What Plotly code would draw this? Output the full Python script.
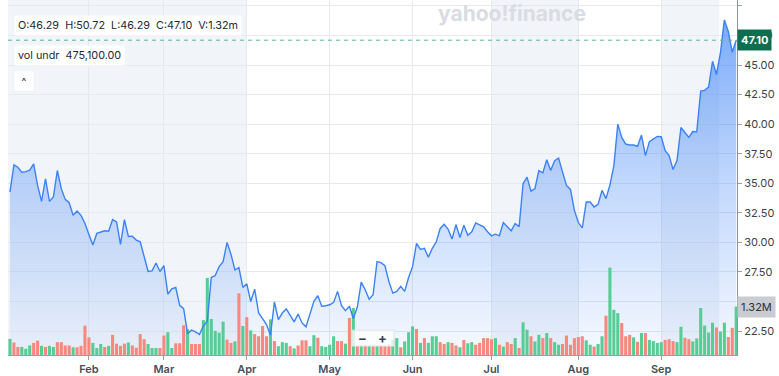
import pandas as pd
import plotly.graph_objects as go

# ---------------- data ----------------
holidays = ["2025-01-01", "2025-01-09", "2025-01-20", "2025-02-17", "2025-04-18",
            "2025-05-26", "2025-06-19", "2025-07-04", "2025-09-01"]
dates = pd.bdate_range("2025-01-02", "2025-09-29", freq="C",
                       holidays=holidays).strftime("%Y-%m-%d").tolist()

close = [34.26, 36.55, 36.36, 35.94, 35.99, 36.11, 36.64, 34.82, 33.47, 35.38,
         33.47, 33.84, 36.08, 34.54, 33.64, 33.36, 32.29, 32.66, 32.29, 31.60,
         30.67, 29.78, 30.76, 30.84, 30.98, 30.95, 31.93, 31.74, 29.83, 31.93,
         30.50, 30.53, 30.20, 30.05, 28.80, 27.54, 27.59, 28.26, 27.54, 28.04,
         25.63, 26.08, 26.19, 24.68, 24.40, 22.27, 22.58, 22.44, 22.21, 22.92,
         23.33, 27.03, 27.20, 27.95, 28.38, 30.00, 28.99, 27.67, 27.87, 26.19,
         26.50, 25.00, 26.05, 24.03, 23.56, 23.05, 22.16, 24.96, 23.47, 24.03,
         24.37, 23.84, 23.28, 23.95, 23.19, 22.86, 23.95, 25.02, 25.49, 24.60,
         24.65, 24.73, 24.93, 25.86, 24.65, 24.23, 24.60, 23.56, 24.51, 26.64,
         26.00, 25.20, 25.57, 28.38, 28.29, 28.04, 26.70, 25.71, 25.86, 26.28,
         25.86, 27.03, 27.95, 29.92, 29.41, 29.50, 28.74, 29.50, 30.05, 31.18,
         31.54, 31.12, 30.28, 31.51, 30.42, 31.46, 30.61, 30.90, 31.65, 31.51,
         31.32, 30.90, 30.56, 30.70, 30.56, 31.68, 31.32, 30.98, 31.60, 31.32,
         34.96, 35.52, 34.34, 34.54, 36.08, 35.88, 37.00, 36.08, 36.92, 37.14,
         35.94, 34.82, 34.48, 32.71, 31.68, 31.23, 33.42, 33.42, 33.00, 33.22,
         34.40, 33.70, 34.85, 36.50, 40.00, 38.88, 38.32, 38.24, 38.24, 38.13,
         39.08, 37.34, 38.52, 38.74, 38.97, 38.94, 37.76, 37.34, 36.16, 36.92,
         39.72, 39.30, 38.88, 39.38, 39.35, 42.80, 42.86, 43.14, 45.32, 44.20,
         46.02, 48.82, 47.84, 46.08, 47.10]

volume_m = [0.44, 0.34, 0.22, 0.22, 0.17, 0.26, 0.33, 0.39, 0.25, 0.22,
            0.25, 0.22, 0.35, 0.35, 0.26, 0.26, 0.21, 0.21, 0.25, 0.80,
            0.48, 0.33, 0.19, 0.30, 0.22, 0.25, 0.55, 0.31, 0.25, 0.31,
            0.34, 0.26, 0.20, 0.57, 0.43, 0.30, 0.19, 0.19, 0.19, 0.53,
            0.62, 0.19, 0.32, 0.32, 0.81, 0.70, 0.30, 0.30, 0.30, 0.95,
            2.10, 0.98, 0.66, 0.61, 0.91, 0.42, 0.33, 0.37, 1.68, 0.79,
            1.03, 0.67, 0.57, 0.51, 0.79, 0.51, 0.97, 0.38, 0.24, 0.35,
            0.33, 0.24, 0.18, 0.26, 0.40, 0.40, 0.24, 0.54, 0.47, 0.24,
            0.22, 0.28, 0.51, 0.38, 0.38, 0.31, 1.01, 1.28, 0.25, 0.26,
            0.26, 0.26, 0.24, 0.26, 0.26, 0.24, 0.29, 0.41, 0.46, 0.21,
            0.37, 0.62, 0.78, 0.71, 0.33, 0.46, 0.33, 0.51, 0.51, 0.35,
            0.30, 0.35, 0.33, 0.26, 0.21, 0.41, 0.32, 0.35, 0.28, 0.33,
            0.46, 0.46, 0.43, 0.46, 0.28, 0.23, 0.35, 0.30, 0.46, 0.19,
            0.89, 0.69, 0.51, 0.37, 0.55, 0.46, 0.60, 0.46, 0.35, 0.28,
            0.30, 0.53, 0.28, 0.46, 0.49, 0.51, 0.40, 0.28, 0.23, 0.30,
            0.51, 1.07, 2.38, 1.23, 1.14, 0.87, 0.51, 0.55, 0.48, 0.36,
            0.60, 0.60, 0.41, 0.38, 0.33, 0.35, 0.41, 0.43, 0.38, 0.35,
            0.77, 0.47, 0.43, 0.37, 0.45, 1.28, 0.80, 0.61, 0.88, 0.75,
            0.64, 0.88, 0.49, 0.74, 1.32]

# u = up day (green bar), d = down day (red bar)
volume_dir = list("udduuuddud" "uudddduddd" "duuududddd" "udddduuudd" "uudddudddu"
                  "uuuuuddudu" "dudddduduu" "ududdduudu" "uuuddududu" "dududdduud"
                  "uuududuuud" "dudduduudd" "dddududdud" "uuduududuu" "dddddduudu"
                  "uduuudddud" "uduuuudddu" "udduuuuuud" "uuddu")

month_ticks = ["2025-02-03", "2025-03-03", "2025-04-01", "2025-05-01",
               "2025-06-02", "2025-07-01", "2025-08-01", "2025-09-02"]
month_labels = ["Feb", "Mar", "Apr", "May", "Jun", "Jul", "Aug", "Sep"]
price_ticks = [22.5, 25.0, 27.5, 30.0, 32.5, 35.0, 37.5, 40.0, 42.5, 45.0, 47.5, 50.0]
shaded_ranges = [("2025-01-02", "2025-04-01"), ("2025-07-01", "2025-08-01"),
                 ("2025-09-02", "2025-09-23")]

header_ohlc = "O:46.29  H:50.72  L:46.29  C:47.10  V:1.32m"
header_vol = "vol undr  475,100.00"
last_close = 47.10
last_volume = 1.32

# ---------------- figure ----------------
FONT = "Inter, 'Liberation Sans', Arial, sans-serif"
GREEN = "#55cd94"
RED = "#f6887e"
LINE = "#3b82f6"
PRICE_RANGE = [20.48, 50.50]
VOL_RANGE = [0, 9.67]

bar_colors = [GREEN if d == "u" else RED for d in volume_dir]

fig = go.Figure()

# area fill (gradient)
fig.add_trace(go.Scatter(
    x=dates, y=close, mode="lines", line=dict(width=0, color=LINE),
    fill="tozeroy",
    fillgradient=dict(type="vertical", start=PRICE_RANGE[0], stop=PRICE_RANGE[1],
                      colorscale=[[0.0, "rgba(59,130,246,0.04)"],
                                  [0.15, "rgba(59,130,246,0.13)"],
                                  [0.5, "rgba(59,130,246,0.32)"],
                                  [0.88, "rgba(59,130,246,0.62)"],
                                  [1.0, "rgba(59,130,246,0.72)"]]),
    hoverinfo="skip", showlegend=False, yaxis="y"))

# volume bars
fig.add_trace(go.Bar(x=dates, y=volume_m, marker=dict(color=bar_colors, line=dict(width=0)),
                     showlegend=False, yaxis="y2"))

# price line on top
fig.add_trace(go.Scatter(x=dates, y=close, mode="lines",
                         line=dict(width=1.4, color=LINE),
                         showlegend=False, yaxis="y3"))

idx = {d: i for i, d in enumerate(dates)}
shapes = []
for a, b in shaded_ranges:
    x0 = -0.5 if idx[a] == 0 else idx[a]
    x1 = idx[b] - (0.3 if b == "2025-09-23" else 0)
    shapes.append(dict(type="rect", xref="x", yref="paper", x0=x0, x1=x1, y0=0, y1=1,
                       fillcolor="#f1f4f9", line=dict(width=0), layer="below"))
# dashed last-close line
shapes.append(dict(type="line", xref="paper", yref="y", x0=0, x1=1,
                   y0=last_close, y1=last_close,
                   line=dict(color="#5db592", width=1, dash="4px,4px"), layer="above"))
# zoom control box
shapes.append(dict(type="rect", xref="paper", yref="paper",
                   x0=(352 - 8) / 729, x1=(394 - 8) / 729,
                   y0=(357 - 348) / 357, y1=(357 - 332) / 357,
                   fillcolor="rgba(255,255,255,0.78)",
                   line=dict(color="rgba(225,228,233,1)", width=1), layer="above"))

annotations = [
    dict(text=header_ohlc, xref="paper", yref="paper", x=(14 - 8) / 729, y=(357 - 26) / 357,
         xanchor="left", yanchor="middle", showarrow=False, bgcolor="white", borderpad=3,
         font=dict(family=FONT, size=10.8, color="#232a31")),
    dict(text=header_vol, xref="paper", yref="paper", x=(14 - 8) / 729, y=(357 - 56) / 357,
         xanchor="left", yanchor="middle", showarrow=False, bgcolor="white", borderpad=3,
         font=dict(family=FONT, size=10.8, color="#232a31")),
    dict(text="^", xref="paper", yref="paper", x=(14 - 8) / 729, y=(357 - 81) / 357,
         xanchor="left", yanchor="middle", showarrow=False, bgcolor="white", borderpad=3,
         width=12, height=12,
         font=dict(family=FONT, size=10, color="#232a31")),
    dict(text="<b>yahoo!finance</b>", xref="paper", yref="paper", x=(512 - 8) / 729,
         y=(357 - 14) / 357, xanchor="center", yanchor="middle", showarrow=False,
         font=dict(family=FONT, size=21, color="#d9dce2")),
    dict(text="<b>%.2f</b>" % last_close, xref="paper", yref="y", x=1.0, y=last_close,
         xanchor="left", yanchor="middle", showarrow=False, bgcolor="#0f6e50",
         borderpad=3, font=dict(family=FONT, size=11, color="white")),
    dict(text="%.2fM" % last_volume, xref="paper", yref="y2", x=1.0, y=last_volume,
         xanchor="left", yanchor="middle", showarrow=False, bgcolor="#c9ccd1",
         borderpad=3, font=dict(family=FONT, size=11, color="#2b2f36")),
    dict(text="<b>−</b>", xref="paper", yref="paper", x=(362 - 8) / 729, y=(357 - 340) / 357,
         xanchor="center", yanchor="middle", showarrow=False,
         font=dict(family=FONT, size=13, color="#3b4149")),
    dict(text="<b>+</b>", xref="paper", yref="paper", x=(382 - 8) / 729, y=(357 - 340) / 357,
         xanchor="center", yanchor="middle", showarrow=False,
         font=dict(family=FONT, size=13, color="#3b4149")),
]

fig.update_layout(
    width=779, height=376,
    margin=dict(l=8, r=42, t=0, b=19),
    paper_bgcolor="white", plot_bgcolor="white",
    bargap=0.22,
    showlegend=False,
    font=dict(family=FONT),
    xaxis=dict(type="category", range=[-0.5, 184.2], tickmode="array",
               tickvals=month_ticks, ticktext=month_labels,
               showgrid=True, gridcolor="#e6e9ee", gridwidth=1,
               ticks="outside", ticklen=4, tickcolor="#9aa0a8",
               showline=True, linecolor="#9aa0a8", linewidth=1,
               tickfont=dict(family=FONT, size=11, color="#464e59", weight=600),
               zeroline=False, fixedrange=True),
    yaxis=dict(side="right", range=PRICE_RANGE, tickmode="array",
               tickvals=price_ticks, ticktext=["%.2f" % v for v in price_ticks],
               showgrid=True, gridcolor="#e6e9ee", gridwidth=1,
               ticks="outside", ticklen=4, tickcolor="#9aa0a8",
               showline=True, linecolor="#8c929a", linewidth=1,
               tickfont=dict(family=FONT, size=11, color="#3b4149"),
               zeroline=False),
    yaxis2=dict(overlaying="y", side="right", range=VOL_RANGE, visible=False),
    yaxis3=dict(overlaying="y", side="right", range=PRICE_RANGE, visible=False),
    shapes=shapes,
    annotations=annotations,
)

fig.write_html("out.html", config={"displayModeBar": False},
               post_script="document.body.style.margin='0';"
                           "document.body.style.overflow='hidden';")
